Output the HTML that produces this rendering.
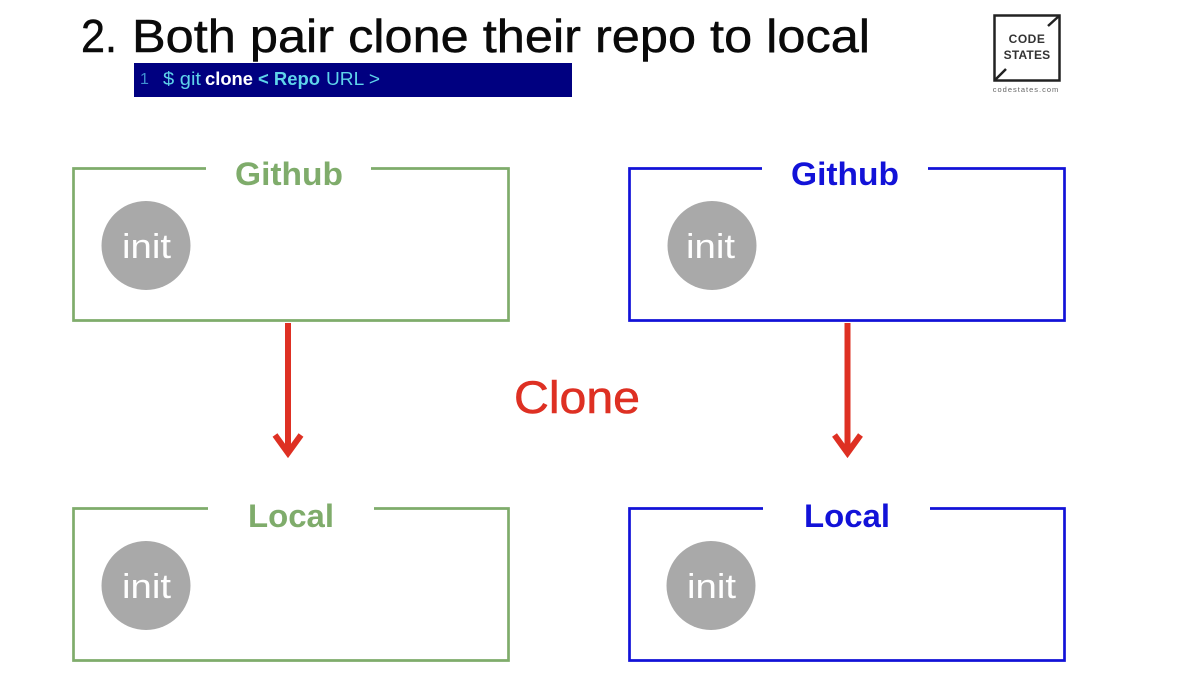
<!DOCTYPE html>
<html>
<head>
<meta charset="utf-8">
<style>
html,body{margin:0;padding:0;background:#fff;}
svg{display:block;}
text{font-family:"Liberation Sans",sans-serif;}
</style>
</head>
<body>
<svg width="1186" height="698" viewBox="0 0 1186 698" xmlns="http://www.w3.org/2000/svg">
<rect width="1186" height="698" fill="#fff"/>
<g font-size="46" fill="#0a0a0a" stroke="#0a0a0a" stroke-width="0.5">
<text x="81" y="52" textLength="36" lengthAdjust="spacingAndGlyphs">2.</text>
<text x="132" y="52" textLength="738" lengthAdjust="spacingAndGlyphs">Both pair clone their repo to local</text>
</g>
<rect x="134" y="63" width="438" height="34" fill="#000080"/>
<text x="140" y="84" font-size="16" fill="#3f8fd0">1</text>
<g font-size="18" fill="#5fd4ea">
<text x="163" y="85" textLength="38" lengthAdjust="spacingAndGlyphs">$ git</text>
<text x="205" y="85" textLength="48" lengthAdjust="spacingAndGlyphs" fill="#fff" font-weight="bold">clone</text>
<text x="258" y="85" textLength="62" lengthAdjust="spacingAndGlyphs" font-weight="bold">&lt; Repo</text>
<text x="326" y="85" textLength="54" lengthAdjust="spacingAndGlyphs">URL &gt;</text>
</g>

<rect x="994.500" y="15.500" width="65" height="65" fill="none" stroke="#222" stroke-width="2.500"/>
<path d="M1048 26 L1059 16 M995 80 L1006 69" stroke="#222" stroke-width="2.500" fill="none"/>
<text x="1027" y="43" font-size="12" text-anchor="middle" fill="#333" font-weight="bold" letter-spacing="0.5">CODE</text>
<text x="1027" y="59" font-size="12" text-anchor="middle" fill="#333" font-weight="bold" letter-spacing="0.2">STATES</text>
<text x="1026" y="92" font-size="7.500" text-anchor="middle" fill="#666" letter-spacing="1">codestates.com</text>

<g fill="none" stroke-width="2.700">
<path d="M206 168.500 H73.500 V320.500 H508.500 V168.500 H371" stroke="#7fac6b"/>
<path d="M762 168.500 H629.500 V320.500 H1064.500 V168.500 H928" stroke="#1212d8"/>
<path d="M208 508.500 H73.500 V660.500 H508.500 V508.500 H374" stroke="#7fac6b"/>
<path d="M763 508.500 H629.500 V660.500 H1064.500 V508.500 H930" stroke="#1212d8"/>
</g>

<g font-size="32" font-weight="bold">
<text x="235" y="185" textLength="108" lengthAdjust="spacingAndGlyphs" fill="#7fac6b">Github</text>
<text x="791" y="185" textLength="108" lengthAdjust="spacingAndGlyphs" fill="#1212d8">Github</text>
<text x="248" y="527" textLength="86" lengthAdjust="spacingAndGlyphs" fill="#7fac6b">Local</text>
<text x="804" y="527" textLength="86" lengthAdjust="spacingAndGlyphs" fill="#1212d8">Local</text>
</g>

<g fill="#a9a9a9">
<circle cx="146" cy="245.500" r="44.500"/>
<circle cx="712" cy="245.500" r="44.500"/>
<circle cx="146" cy="585.500" r="44.500"/>
<circle cx="711" cy="585.500" r="44.500"/>
</g>
<g fill="#fff" font-size="34">
<text x="122" y="258" textLength="49" lengthAdjust="spacingAndGlyphs">init</text>
<text x="686" y="258" textLength="49" lengthAdjust="spacingAndGlyphs">init</text>
<text x="122" y="598" textLength="49" lengthAdjust="spacingAndGlyphs">init</text>
<text x="687" y="598" textLength="49" lengthAdjust="spacingAndGlyphs">init</text>
</g>

<g fill="none" stroke="#de3023" stroke-width="6">
<path d="M288 323 V452"/>
<path d="M275 435 L288 453 L301 435"/>
<path d="M847.500 323 V452"/>
<path d="M834.500 435 L847.500 453 L860.500 435"/>
</g>

<text x="514" y="413" font-size="45" textLength="126" lengthAdjust="spacingAndGlyphs" fill="#de3023" stroke="#de3023" stroke-width="0.6">Clone</text>
</svg>
</body>
</html>
